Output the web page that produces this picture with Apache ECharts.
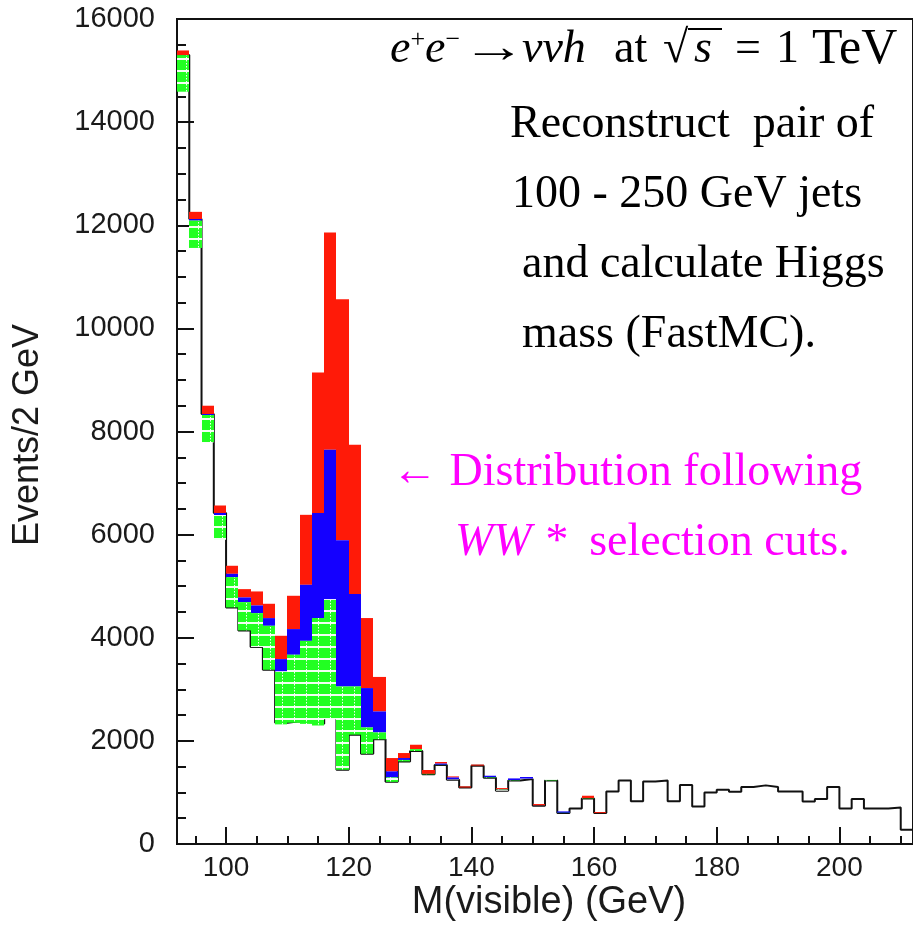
<!DOCTYPE html>
<html>
<head>
<meta charset="utf-8">
<script src="https://cdn.jsdelivr.net/npm/echarts@6/dist/echarts.min.js"></script>
<style>
html, body { margin: 0; padding: 0; background: #fff; }
#main { width: 913px; height: 932px; }
</style>
</head>
<body>
<div id="main"></div>
<script>
var binStart = 92;
var binWidth = 2;

// coloured bands, bins 92 .. 160 (2 GeV each)
var redTop      = [15390, 12260, 8500, 6565, 5396, 4943, 4898, 4659, 4038, 4814, 6384, 9143, 11857, 10566, 7741, 4382, 3240,
                   1667, 1764, 1925, 1435, 1590, 1311, 1117, 1540, 1324, 1085, 1272, 1299, 775, 1260, 632, 690, 936, 618];
var blueTop     = [15300, 12120, 8340, 6420, 5240, 4782, 4626, 4381, 3586, 4168, 5027, 6417, 7644, 5890, 4850, 3024, 2571,
                   1408, 1667, 1840, 1360, 1560, 1290, 1095, 1520, 1324, 1060, 1272, 1299, 748, 1260, 632, 690, 890, 600];
var greenTop    = [15300, 12090, 8320, 6380, 5176, 4691, 4478, 4232, 3347, 3670, 3940, 4381, 4749, 3056, 3056, 2260, 2164,
                   1291, 1630, 1840, 1360, 1535, 1255, 1095, 1520, 1295, 1055, 1240, 1265, 745, 1260, 605, 690, 890, 600];
var greenBottom = [14590, 11560, 7790, 5900, 4588, 4142, 3819, 3379, 2320, 2350, 2330, 2300, 2420, 1440, 2120, 1750, 2030,
                   1205, 1602, 1805, 1352, 1531, 1247, 1095, 1520, 1285, 1033, 1233, 1260, 743, 1233, 601, 690, 884, 600];

// black histogram outline, bins 92 .. 210
var blackLine = [15300, 12120, 8340, 6420, 4588, 4142, 3819, 3379, 2350, 2380, 2360, 2330, 2450, 1440, 2120, 1750, 2030,
                 1205, 1602, 1805, 1352, 1531, 1247, 1095, 1520, 1285, 1033, 1233, 1260, 743, 1233, 601, 690, 884, 600,
                 1020, 1233, 830, 1214, 1233, 830, 1143, 729, 1000, 1053, 1014, 1105, 1137, 1105, 1020, 1020, 826, 872,
                 1105, 690, 872, 690, 690, 710, 277];

var xMajor = [100, 120, 140, 160, 180, 200];
var xMinor = [95, 105, 110, 115, 125, 130, 135, 145, 150, 155, 165, 170, 175, 185, 190, 195, 205, 210];

var chart = echarts.init(document.getElementById('main'));

// green cross-hatch like the ROOT fill pattern
var pat = document.createElement('canvas');
pat.width = 12;
pat.height = 12;
var g = pat.getContext('2d');
g.fillStyle = '#22ff22';
g.fillRect(0, 0, 12, 12);
g.fillStyle = 'rgba(255,255,255,0.95)';
g.fillRect(0, 10, 12, 2);
for (var k = 0; k < 10; k += 3) g.fillRect(6, k, 1, 1.5);

function band(lower, upper, fill) {
    var data = [];
    for (var i = 0; i < upper.length; i++) {
        data.push([binStart + i * binWidth, lower[i], upper[i]]);
    }
    return {
        type: 'custom',
        silent: true,
        z: 3,
        data: data,
        encode: { x: 0, y: [1, 2] },
        renderItem: function (params, api) {
            var x0 = api.value(0), lo = api.value(1), hi = api.value(2);
            if (hi <= lo) return;
            var p0 = api.coord([x0, hi]);
            var p1 = api.coord([x0 + binWidth, lo]);
            var l = Math.round(p0[0]), r = Math.round(p1[0]);
            return {
                type: 'rect',
                shape: { x: l, y: p0[1], width: r - l, height: p1[1] - p0[1] },
                style: { fill: fill }
            };
        }
    };
}

var blackData = blackLine.map(function (v, i) { return [binStart + i * binWidth, v]; });
blackData.push([binStart + blackLine.length * binWidth, blackLine[blackLine.length - 1]]);

var axisCol = '#111';
var lblFont = 'Liberation Sans';
var serif = 'Liberation Serif';

function txt(x, y, s, opts) {
    var st = { text: s, fontSize: 46, fontFamily: serif, fill: '#000', verticalAlign: 'middle' };
    for (var key in opts) st[key] = opts[key];
    return { type: 'text', x: x, y: y, style: st };
}

var option = {
    animation: false,
    grid: {
        left: 177, top: 19, right: -9, bottom: 88,
        show: true, borderColor: axisCol, borderWidth: 2
    },
    xAxis: [{
        type: 'value', min: 92, max: 212, position: 'bottom',
        splitLine: { show: false },
        axisLine: { lineStyle: { color: axisCol, width: 2 } },
        axisTick: { inside: true, length: 17, customValues: xMajor, lineStyle: { color: axisCol, width: 2 } },
        axisLabel: { customValues: xMajor, fontSize: 28, fontFamily: lblFont, color: '#1a1a1a', margin: 10 }
    }, {
        type: 'value', min: 92, max: 212, position: 'bottom',
        splitLine: { show: false },
        axisLine: { show: false },
        axisTick: { inside: true, length: 8, customValues: xMinor, lineStyle: { color: axisCol, width: 2 } },
        axisLabel: { show: false }
    }],
    yAxis: {
        type: 'value', min: 0, max: 16000, interval: 2000,
        splitLine: { show: false },
        axisLine: { lineStyle: { color: axisCol, width: 2 } },
        axisTick: { inside: true, length: 17, lineStyle: { color: axisCol, width: 2 } },
        minorTick: { show: true, splitNumber: 4, length: 9, lineStyle: { color: axisCol, width: 2 } },
        axisLabel: {
            fontSize: 29, fontFamily: lblFont, color: '#1a1a1a', margin: 22,
            formatter: function (v) { return String(v); }
        }
    },
    series: [
        {
            type: 'line', step: 'end', data: blackData, symbol: 'none', z: 2,
            silent: true,
            lineStyle: { color: '#111', width: 2 }
        },
        band(blueTop, redTop, '#ff1a08'),
        band(greenTop, blueTop, '#1400ff'),
        band(greenBottom, greenTop, { image: pat, repeat: 'repeat' })
    ],
    graphic: [
        {
            type: 'text', x: 28, y: 435, rotation: Math.PI / 2,
            style: { text: 'Events/2 GeV', fontSize: 36, fontFamily: lblFont, fill: '#1a1a1a', align: 'center', verticalAlign: 'middle' }
        },
        {
            type: 'text', x: 549, y: 903,
            style: { text: 'M(visible) (GeV)', fontSize: 38, fontFamily: lblFont, fill: '#1a1a1a', align: 'center', verticalAlign: 'middle' }
        },
        // header: e+e- -> vvh at sqrt(s) = 1 TeV
        {
            type: 'text', x: 390, y: 50,
            style: {
                text: '{i|e}{s|+}{i|e}{s|\u2212}',
                fontSize: 46, fontFamily: serif, fill: '#000', verticalAlign: 'middle',
                rich: {
                    i: { fontStyle: 'italic', fontSize: 46, fontFamily: serif, fill: '#000' },
                    s: { fontSize: 26, fontFamily: serif, fill: '#000', verticalAlign: 'top', lineHeight: 46 }
                }
            }
        },
        { type: 'text', x: 462, y: 50, scaleX: 1.4, style: { text: '\u2192', fontSize: 46, fontFamily: serif, fill: '#000', verticalAlign: 'middle' } },
        txt(522, 50, '\u03bd\u03bdh', { fontStyle: 'italic' }),
        txt(614, 50, 'at'),
        txt(663, 50, '\u221a'),
        txt(694, 50, 's', { fontStyle: 'italic' }),
        { type: 'line', shape: { x1: 688, y1: 29, x2: 722, y2: 29 }, style: { stroke: '#000', lineWidth: 2 } },
        txt(735, 50, '='),
        txt(776, 50, '1'),
        txt(812, 50, 'TeV', { fontSize: 50 }),
        txt(510, 125, 'Reconstruct  pair of'),
        txt(512, 195, '100 - 250 GeV jets'),
        txt(522, 265, 'and calculate Higgs'),
        txt(522, 335, 'mass (FastMC).'),
        txt(392, 473, '\u2190 Distribution following', { fill: '#ff00ff' }),
        {
            type: 'text', x: 455, y: 543,
            style: {
                text: '{i|WW *}  selection cuts.', fontSize: 46, fontFamily: serif, fill: '#ff00ff', verticalAlign: 'middle',
                rich: { i: { fontStyle: 'italic', fontSize: 46, fontFamily: serif, fill: '#ff00ff' } }
            }
        }
    ]
};

chart.setOption(option);
</script>
</body>
</html>
